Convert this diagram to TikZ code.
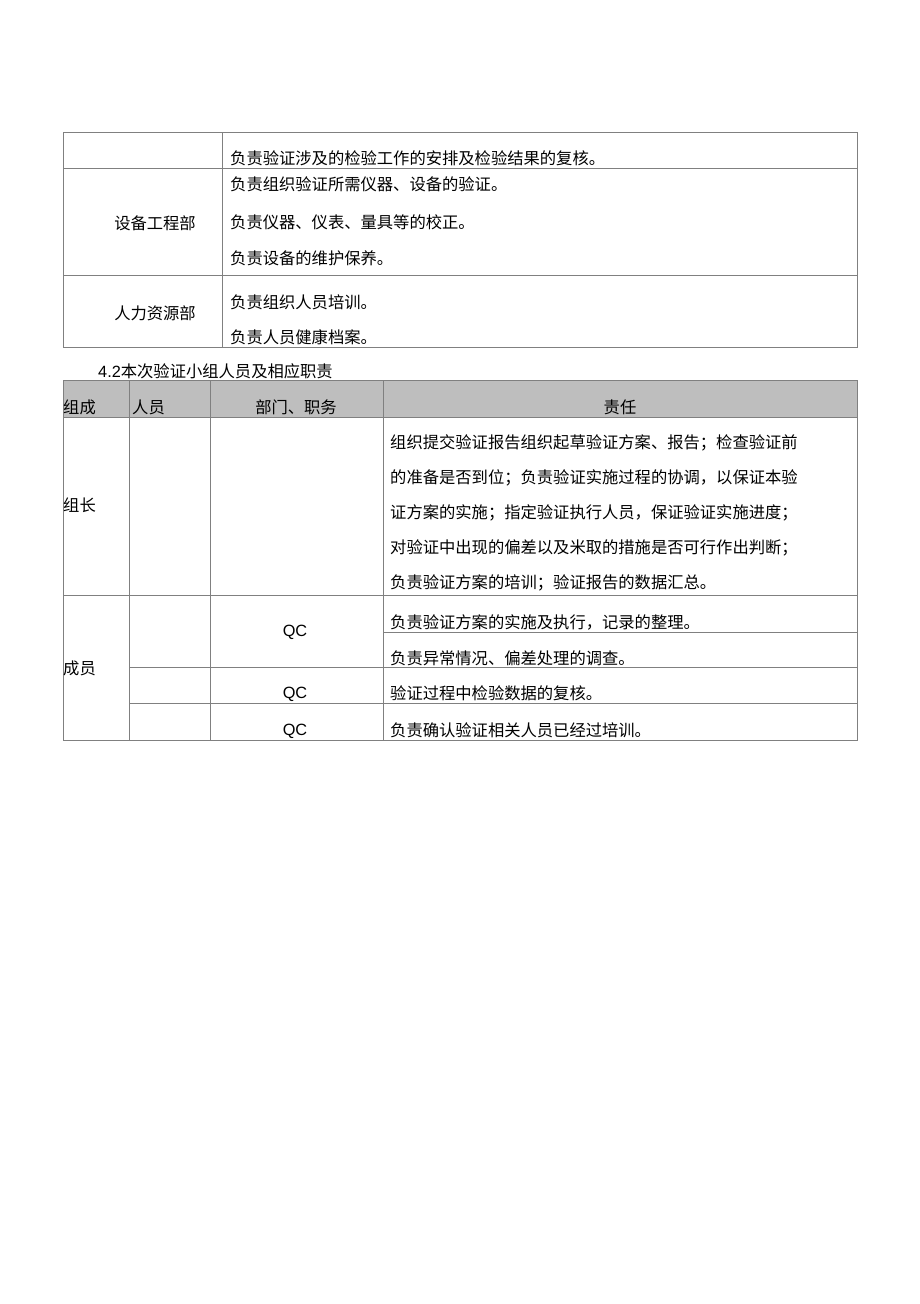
\documentclass[tikz,border=0pt]{standalone}
\usepackage{fontspec}
\setmainfont{Liberation Sans}
\newfontfamily\cjk{Noto Sans CJK SC}
\definecolor{rulegray}{RGB}{128,128,128}
\definecolor{headgray}{RGB}{190,190,190}
\begin{document}
\begin{tikzpicture}[x=1pt,y=-1pt,
 txt/.style={anchor=west,inner sep=0pt,font=\cjk\fontsize{16.3}{19}\selectfont},
 mid/.style={txt,anchor=center},
 lat/.style={anchor=center,inner sep=0pt,font=\fontsize{16.3}{19}\selectfont},
 ]
 \useasboundingbox[fill=white] (0,0) rectangle (920,1304);
 % upper table
 \begin{scope}[rulegray,line width=1pt]
 \draw (63,132) rectangle (857,347);
 \draw (63,168)--+(794,0) (63,275)--+(794,0) (222,132)--+(0,215);
 \end{scope}
 \path
 (230,158) node[txt] (chk) {负责验证涉及的检验工作的安排及检验结果的复核。} % <<< row 1
 (155,223) node[mid] (eqp) {设备工程部} % <<< row 2
 (230,184) node[txt] (eqa) {负责组织验证所需仪器、设备的验证。}
 ++(0,38) node[txt] (eqb) {负责仪器、仪表、量具等的校正。}
 ++(0,36) node[txt] (eqc) {负责设备的维护保养。}
 (155,313) node[mid] (hr) {人力资源部} % <<< row 3
 (230,302) node[txt] (hra) {负责组织人员培训。}
 ++(0,35) node[txt] (hrb) {负责人员健康档案。};
 % lower table
 \path (98,371) node[txt] (title) {{\rmfamily 4.2}本次验证小组人员及相应职责};
 \fill[headgray] (63,380) rectangle (857,417);
 \begin{scope}[rulegray,line width=1pt]
 \draw (63,380) rectangle (857,740);
 \draw (63,417)--+(794,0) (63,595)--+(794,0);
 \draw (129,667)--+(728,0) (129,703)--+(728,0) (383,632)--+(474,0);
 \draw (129,380)--+(0,360) (210,380)--+(0,360) (383,380)--+(0,360);
 \end{scope}
 \path
 (63,407) node[txt] (hgrp) {组成} % <<< header
 (132,407) node[txt] (hmem) {人员}
 (296,407) node[mid] (hdep) {部门、职务}
 (620,407) node[mid] (hdut) {责任}
 (63,505) node[txt] (lead) {组长} % <<< leader
 (390,443) node[txt] (lda) {组织提交验证报告组织起草验证方案、报告；检查验证前}
 ++(0,35) node[txt] (ldb) {的准备是否到位；负责验证实施过程的协调，以保证本验}
 ++(0,35) node[txt] (ldc) {证方案的实施；指定验证执行人员，保证验证实施进度；}
 ++(0,35) node[txt] (ldd) {对验证中出现的偏差以及米取的措施是否可行作出判断；}
 ++(0,35) node[txt] (lde) {负责验证方案的培训；验证报告的数据汇总。}
 (63,668) node[txt] (memb) {成员} % <<< members
 (295,632) node[lat] (qca) {QC}
 (390,622) node[txt] (mba) {负责验证方案的实施及执行，记录的整理。}
 ++(0,36) node[txt] (mbb) {负责异常情况、偏差处理的调查。}
 (295,694) node[lat] (qcb) {QC}
 (390,693) node[txt] (mbc) {验证过程中检验数据的复核。}
 (295,731) node[lat] (qcc) {QC}
 (390,730) node[txt] (mbd) {负责确认验证相关人员已经过培训。};
\end{tikzpicture}
\end{document}
